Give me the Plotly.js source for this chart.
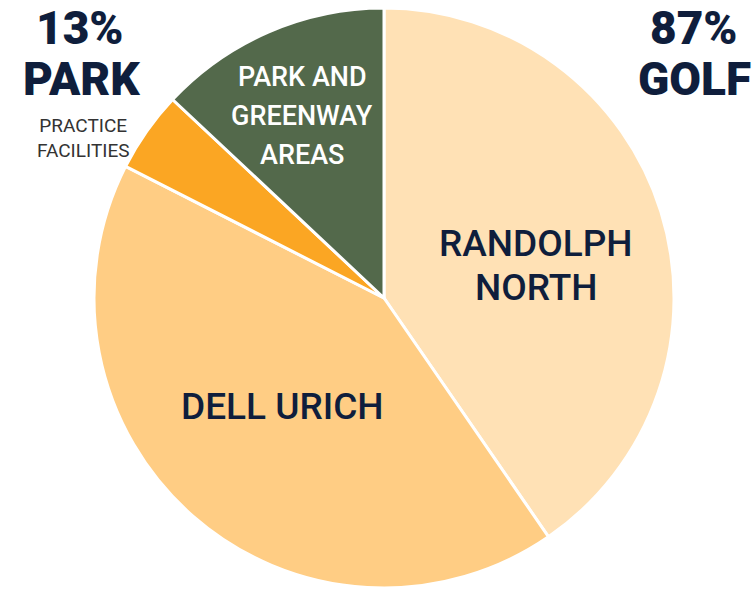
<!DOCTYPE html>
<html>
<head>
<meta charset="utf-8">
<script src="https://cdn.plot.ly/plotly-3.0.1.min.js"></script>
<style>
html,body{margin:0;padding:0;background:#fff;}
#chart{width:755px;height:590px;}
</style>
</head>
<body>
<div id="chart"></div>
<script>
// Data
const categories = ["RANDOLPH NORTH", "DELL URICH", "PRACTICE FACILITIES", "PARK AND GREENWAY AREAS"];
const shares = [40.4, 42.1, 4.5, 13.0];
const summaryPercents = ["13%", "87%"];
const summaryLabels = ["PARK", "GOLF"];

const sliceColors = ["#FFE1B5", "#FFCD84", "#FBA623", "#53694B"];
const navy = "#0F1E3C";
const FONT = "Roboto, 'Noto Sans', sans-serif";

const W = 755, H = 590;
function px(x){ return x / W; }
function py(y){ return 1 - y / H; }

const trace = {
  type: "pie",
  labels: categories,
  values: shares,
  sort: false,
  direction: "clockwise",
  rotation: 0,
  textinfo: "none",
  hoverinfo: "none",
  marker: { colors: sliceColors, line: { color: "#ffffff", width: 3 } },
  domain: { x: [px(384 - 290), px(384 + 290)], y: [py(298 + 290), py(298 - 290)] },
  showlegend: false
};

function ann(text, x, y, size, color, weight){
  return {
    text: text, x: px(x), y: py(y), xref: "paper", yref: "paper",
    xanchor: "center", yanchor: "middle", showarrow: false,
    font: { family: FONT, size: size, color: color, weight: weight || 400 }
  };
}

const annotations = [
  ann(summaryPercents[0], 80, 28, 46, navy, 900),
  ann(summaryLabels[0], 81, 79, 46, navy, 900),
  ann(summaryPercents[1], 694, 28, 46, navy, 900),
  ann(summaryLabels[1], 694, 79, 46, navy, 900),
  ann("PRACTICE<br>FACILITIES", 83, 138, 19, "#333333", 400),
  ann("PARK AND", 302, 77, 27, "#ffffff", 500),
  ann("GREENWAY", 302, 116, 27, "#ffffff", 500),
  ann("AREAS", 302, 155, 27, "#ffffff", 500),
  ann("RANDOLPH", 536, 243, 37, navy, 500),
  ann("NORTH", 536, 287, 37, navy, 500),
  ann("DELL URICH", 282, 406, 37, navy, 500)
];

const layout = {
  width: W, height: H,
  margin: { l: 0, r: 0, t: 0, b: 0 },
  paper_bgcolor: "#ffffff",
  plot_bgcolor: "#ffffff",
  annotations: annotations
};

Plotly.newPlot("chart", [trace], layout, { displayModeBar: false, staticPlot: true });
</script>
</body>
</html>
